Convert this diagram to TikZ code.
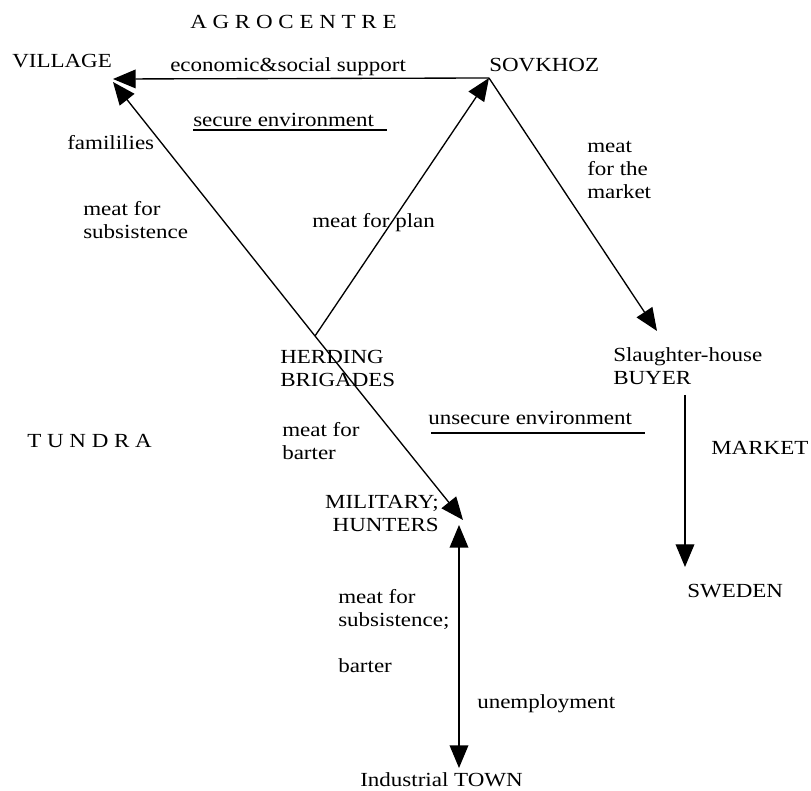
\documentclass[tikz,border=0pt]{standalone}
\usepackage{fontspec}
\setmainfont[FakeStretch=1.15]{Liberation Serif}
\usetikzlibrary{arrows.meta}

\begin{document}
\begin{tikzpicture}[x=0.75pt,y=-0.75pt,
    txt/.style={inner sep=0pt,anchor=base west,align=left,
      font=\fontsize{15}{17.25}\selectfont},
    flow/.style={line width=1pt,-{Triangle[length=17pt,width=14pt]}},
    flows/.style={line width=1pt,{Triangle[length=17pt,width=14pt]}-{Triangle[length=17pt,width=14pt]}}]
        \useasboundingbox (0,0) rectangle (811,791);

        \node[txt] (agro) at (190,29) {A G R O C E N T R E};
        \node[txt] (village) at (12,68) {VILLAGE};
        \node[txt] (support) at (170,72) {economic\&social support};
        \node[txt] (sovkhoz) at (489,72) {SOVKHOZ};
        \node[txt] (secure) at (193,127) {secure environment};
        \node[txt] (fam) at (67,150) {famililies};
        \node[txt] (subs) at (83,239) {meat for\\subsistence};
        \node[txt] (plan) at (312,228) {meat for plan};
        \node[txt] (market) at (587,199) {meat\\for the\\market};
        \node[txt] (herding) at (280,387) {HERDING\\BRIGADES};
        \node[txt] (buyer) at (613,385) {Slaughter-house\\BUYER};
        \node[txt] (unsecure) at (428,425) {unsecure environment};
        \node[txt] (tundra) at (27,448) {T U N D R A};
        \node[txt] (barter) at (282,460) {meat for\\barter};
        \node[txt] (mkt) at (711,455) {MARKET};
        \node[txt,anchor=base east,align=right] (military) at (439,532) {MILITARY;\\HUNTERS};
        \node[txt] (sweden) at (687,597) {SWEDEN};
        \node[txt] (subs2) at (338,672) {meat for\\subsistence;\\[17.25pt]barter};
        \node[txt] (unemp) at (477,708) {unemployment};
        \node[txt] (town) at (360,786) {Industrial TOWN};

        \coordinate (s) at (489,78);
        \coordinate (v1) at (113,79);
        \coordinate (v2) at (113,82);
        \coordinate (h) at (315,336);
        \coordinate (m) at (463,520);
        \coordinate (sl) at (657,331);
        \coordinate (b1) at (685,395);
        \coordinate (b2) at (685,567);
        \coordinate (t1) at (459,525);
        \coordinate (t2) at (459,768);

        \draw[flow] (s) -- (v1);
        \draw[flow] (h) -- (v2);
        \draw[flow] (h) -- (s);
        \draw[flow] (h) -- (m);
        \draw[flow] (s) -- (sl);
        \draw[flow] (b1) -- (b2);
        \draw[flows] (t1) -- (t2);

        \draw[line width=0.8pt] (193,130) -- (387,130);
        \draw[line width=0.8pt] (431,433) -- (645,433);
    \end{tikzpicture}
\end{document}
